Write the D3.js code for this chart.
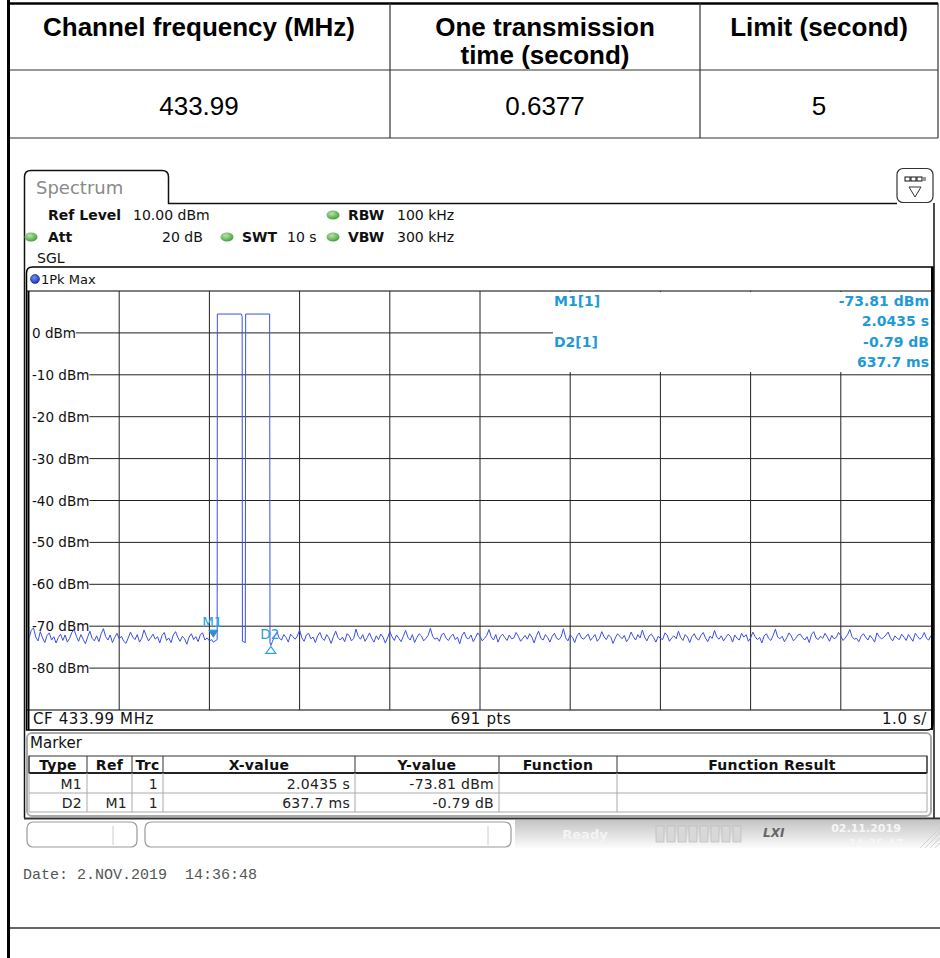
<!DOCTYPE html>
<html>
<head>
<meta charset="utf-8">
<script src="https://cdn.jsdelivr.net/npm/d3@7"></script>
<style>
  body { margin: 0; background: #fff; }
  svg { display: block; }
</style>
</head>
<body>
<div id="chart"></div>
<script>
// ---- data ----
const tableHeaders = [["Channel frequency (MHz)"], ["One transmission", "time (second)"], ["Limit (second)"]];
const tableValues = ["433.99", "0.6377", "5"];

const levelTicks = [0, -10, -20, -30, -40, -50, -60, -70, -80];
const timeTicks = [0, 1, 2, 3, 4, 5, 6, 7, 8, 9, 10];

// noise floor before the bursts, 0.000 .. 2.025 s every 0.025 s (dBm)
const noiseBefore = [
  -72.9, -71.0, -70.4, -72.6, -73.5, -71.3, -72.8, -73.9, -72.2, -71.6,
  -73.3, -72.5, -74.0, -72.7, -71.9, -73.4, -72.1, -73.8, -72.9, -71.5,
  -70.8, -72.4, -73.6, -72.0, -73.1, -74.2, -72.6, -71.2, -72.9, -73.5,
  -72.3, -73.7, -71.8, -70.6, -72.5, -73.3, -72.1, -73.9, -72.7, -71.7,
  -73.0, -72.4, -73.6, -74.1, -72.8, -71.4, -72.6, -73.2, -72.0, -73.8,
  -72.9, -70.9, -72.3, -73.5, -72.7, -71.9, -73.1, -72.5, -74.0, -72.2,
  -71.5, -73.4, -72.8, -73.9, -72.1, -71.3, -72.7, -73.6, -72.4, -73.0,
  -74.3, -72.6, -71.8, -73.2, -72.5, -73.7, -72.0, -71.6, -73.3, -72.8,
  -73.5, -73.2
];
// the two bursts, [time s, level dBm]
const burstTrace = [
  [2.0435, -73.81], [2.086, -73.2], [2.088, 4.5], [2.355, 4.5], [2.363, 3.9],
  [2.366, -73.6], [2.398, -73.9], [2.402, 4.5], [2.668, 4.5], [2.672, -74.0],
  [2.681, -74.6]
];
// noise floor after the bursts, 2.700 .. 10.000 s every 0.025 s (dBm)
const noiseAfter = [
  -73.6, -72.2, -71.4, -72.9, -73.3, -72.0, -72.7, -73.8, -71.9, -72.5,
  -73.1, -72.4, -70.9, -72.8, -73.6, -72.1, -71.7, -73.0, -72.6, -73.9,
  -72.3, -71.5, -72.9, -73.4, -72.0, -72.8, -74.1, -72.5, -71.2, -72.7,
  -73.3, -72.6, -73.7, -71.8, -72.2, -73.5, -72.9, -70.7, -72.4, -73.1,
  -72.0, -73.6, -72.7, -71.6, -72.9, -73.8, -72.3, -73.2, -71.9, -72.6,
  -74.0, -72.8, -71.3, -72.5, -73.4, -72.1, -72.9, -73.7, -72.4, -71.0,
  -72.6, -73.3, -72.0, -73.9, -72.7, -71.8, -72.3, -73.5, -72.9, -72.2,
  -70.5, -72.4, -73.1, -72.8, -73.6, -72.0, -71.7, -72.9, -73.4, -72.5,
  -71.9, -73.2, -72.6, -74.2, -72.3, -71.4, -72.8, -73.0, -72.1, -73.7,
  -72.7, -71.6, -72.4, -73.5, -72.9, -72.2, -70.8, -72.6, -73.3, -72.0,
  -73.8, -72.5, -71.9, -72.7, -73.4, -72.1, -73.0, -72.8, -71.5, -72.4,
  -73.6, -72.9, -72.2, -73.1, -71.8, -72.6, -74.0, -72.3, -71.2, -72.9,
  -73.3, -72.0, -72.7, -73.8, -72.4, -71.7, -72.9, -73.2, -72.5, -70.6,
  -72.8, -73.5, -72.1, -72.6, -73.9, -72.3, -71.6, -72.8, -73.1, -72.4,
  -71.9, -73.4, -72.7, -72.0, -73.6, -72.9, -71.3, -72.5, -73.2, -72.1,
  -72.6, -74.1, -72.8, -71.8, -72.4, -73.0, -72.2, -73.7, -72.9, -71.4,
  -72.5, -73.3, -72.0, -72.8, -70.9, -72.6, -73.5, -72.3, -71.9, -72.7,
  -73.8, -72.4, -72.9, -73.2, -71.6, -72.1, -73.6, -72.8, -72.3, -73.0,
  -71.2, -72.7, -73.4, -72.0, -72.6, -73.9, -72.5, -71.8, -72.9, -73.3,
  -72.2, -71.5, -72.8, -73.7, -72.4, -72.9, -71.0, -72.6, -73.1, -72.3,
  -73.5, -72.7, -71.9, -72.4, -73.8, -72.1, -72.9, -73.3, -71.7, -72.6,
  -72.0, -73.6, -72.8, -71.4, -72.5, -73.2, -72.7, -74.0, -72.3, -71.8,
  -72.9, -73.4, -72.2, -70.7, -72.6, -73.0, -72.4, -73.7, -72.8, -71.6,
  -72.3, -73.5, -72.9, -72.1, -71.9, -72.7, -73.3, -72.5, -73.9, -72.0,
  -71.3, -72.8, -73.2, -72.4, -72.9, -71.7, -72.6, -73.6, -72.2, -73.0,
  -72.7, -71.5, -72.3, -73.4, -72.8, -72.0, -70.8, -72.5, -73.1, -72.9,
  -73.7, -72.4, -71.8, -72.6, -73.3, -72.2, -72.9, -73.8, -71.6, -72.5,
  -73.0, -72.7, -72.1, -71.4, -72.8, -73.5, -72.3, -72.9, -73.2, -71.9,
  -72.6, -73.4, -72.0, -72.8, -73.6, -71.7, -72.4, -73.1, -72.7, -71.5,
  -72.9, -73.3, -72.2
];
const noiseStep = 0.025;
const noiseAfterStart = 2.70;

const markers = [
  {name: "M1", t: 2.0435, level: -73.81},
  {name: "D2", t: 2.681, level: -74.6}
];
const readout = [["M1[1]", "-73.81 dBm"], ["", "2.0435 s"], ["D2[1]", "-0.79 dB"], ["", "637.7 ms"]];

const markerCols = ["Type", "Ref", "Trc", "X-value", "Y-value", "Function", "Function Result"];
const markerRows = [
  ["M1", "", "1", "2.0435 s", "-73.81 dBm", "", ""],
  ["D2", "M1", "1", "637.7 ms", "-0.79 dB", "", ""]
];

// ---- drawing ----
const W = 940, H = 958;
const svg = d3.select("#chart").append("svg")
  .attr("width", W).attr("height", H);

const defs = svg.append("defs");
const g1 = defs.append("radialGradient").attr("id", "led").attr("cx", "40%").attr("cy", "35%").attr("r", "70%");
g1.append("stop").attr("offset", "0%").attr("stop-color", "#b6e3a4");
g1.append("stop").attr("offset", "100%").attr("stop-color", "#3f9a3a");
const g2 = defs.append("linearGradient").attr("id", "status").attr("x1", 0).attr("y1", 0).attr("x2", 0).attr("y2", 1);
g2.append("stop").attr("offset", "0%").attr("stop-color", "#c4c4c4");
g2.append("stop").attr("offset", "100%").attr("stop-color", "#fcfcfc");
const g3 = defs.append("radialGradient").attr("id", "bluedot").attr("cx", "40%").attr("cy", "35%").attr("r", "70%");
g3.append("stop").attr("offset", "0%").attr("stop-color", "#6f8cff");
g3.append("stop").attr("offset", "100%").attr("stop-color", "#1030d0");

// outer document table
const colEdges = [8, 390, 700, 938];
const tbl = svg.append("g").attr("font-family", "Liberation Sans, Arial, sans-serif").attr("fill", "#000");
tbl.append("line").attr("x1", 8).attr("x2", 938).attr("y1", 3.5).attr("y2", 3.5).attr("stroke", "#000").attr("stroke-width", 2.5);
[70, 138].forEach(yy => tbl.append("line").attr("x1", 8).attr("x2", 938).attr("y1", yy).attr("y2", yy).attr("stroke", "#333").attr("stroke-width", 1.2));
colEdges.slice(1).forEach(xx => tbl.append("line").attr("x1", xx).attr("x2", xx).attr("y1", 3).attr("y2", 138).attr("stroke", "#333").attr("stroke-width", 1.2));
tableHeaders.forEach((lines, i) => {
  const cx = (colEdges[i] + colEdges[i + 1]) / 2;
  lines.forEach((s, j) => {
    tbl.append("text").attr("x", cx).attr("y", lines.length === 1 ? 27 : 27 + j * 28)
      .attr("text-anchor", "middle").attr("dominant-baseline", "central")
      .attr("font-size", 26).attr("font-weight", "bold").text(s);
  });
  tbl.append("text").attr("x", cx).attr("y", 106).attr("text-anchor", "middle")
    .attr("dominant-baseline", "central").attr("font-size", 26).text(tableValues[i]);
});
svg.append("rect").attr("x", 7).attr("y", 0).attr("width", 3).attr("height", H).attr("fill", "#000");
svg.append("line").attr("x1", 10).attr("x2", 940).attr("y1", 928).attr("y2", 928).attr("stroke", "#333").attr("stroke-width", 1.5);

// analyzer screen
const scr = svg.append("g").attr("font-family", "DejaVu Sans, Verdana, sans-serif");

// tab + frame
scr.append("path")
  .attr("d", "M24.5,818 L24.5,177 Q24.5,170.5 31,170.5 L162,170.5 Q168.5,170.5 168.5,177 L168.5,203.5 L897,203.5")
  .attr("fill", "none").attr("stroke", "#111").attr("stroke-width", 1.5);
scr.append("line").attr("x1", 934).attr("x2", 934).attr("y1", 203).attr("y2", 818).attr("stroke", "#111").attr("stroke-width", 1.5);
scr.append("text").attr("x", 36).attr("y", 187).attr("dominant-baseline", "central")
  .attr("font-size", 18).attr("fill", "#8a8a8a").text("Spectrum");

// icon button
scr.append("rect").attr("x", 897).attr("y", 168.5).attr("width", 36).attr("height", 34).attr("rx", 6)
  .attr("fill", "#fff").attr("stroke", "#333").attr("stroke-width", 1.2);
[0, 1, 2].forEach(k => scr.append("rect").attr("x", 905 + k * 6).attr("y", 177).attr("width", 5).attr("height", 4)
  .attr("fill", "#fff").attr("stroke", "#111").attr("stroke-width", 1));
scr.append("rect").attr("x", 923).attr("y", 177).attr("width", 3).attr("height", 4).attr("fill", "#999");
scr.append("path").attr("d", "M909,187 L921,187 L915,197 Z").attr("fill", "none").attr("stroke", "#333").attr("stroke-width", 1);

// settings lines
const setRows = [
  {y: 215, items: [{x: 48, t: "Ref Level", b: true}, {x: 133, t: "10.00 dBm"}, {dot: 333}, {x: 348, t: "RBW", b: true}, {x: 397, t: "100 kHz"}]},
  {y: 237, items: [{dot: 31}, {x: 48, t: "Att", b: true}, {x: 162, t: "20 dB"}, {dot: 227}, {x: 242, t: "SWT", b: true}, {x: 287, t: "10 s"}, {dot: 333}, {x: 348, t: "VBW", b: true}, {x: 397, t: "300 kHz"}]},
  {y: 258, items: [{x: 37, t: "SGL"}]}
];
setRows.forEach(r => r.items.forEach(it => {
  if (it.dot !== undefined) {
    scr.append("ellipse").attr("cx", it.dot).attr("cy", r.y).attr("rx", 6.5).attr("ry", 4.5).attr("fill", "url(#led)");
  } else {
    scr.append("text").attr("x", it.x).attr("y", r.y).attr("dominant-baseline", "central")
      .attr("font-size", 14).attr("font-weight", it.b ? "bold" : "normal").attr("fill", "#111").text(it.t);
  }
}));

// trace window
const x = d3.scaleLinear().domain([0, 10]).range([29, 931]);
const y = d3.scaleLinear().domain([10, -90]).range([291, 710]);

scr.append("path")
  .attr("d", "M26.5,730 L26.5,273 Q26.5,267 32.5,267 L933,267 L933,724 Q933,730 927,730 Z")
  .attr("fill", "#fff").attr("stroke", "#000").attr("stroke-width", 1.5);
scr.append("circle").attr("cx", 35).attr("cy", 279).attr("r", 4.5).attr("fill", "url(#bluedot)").attr("stroke", "#223").attr("stroke-width", 0.6);
scr.append("text").attr("x", 41).attr("y", 279).attr("dominant-baseline", "central")
  .attr("font-size", 13).attr("fill", "#111").text("1Pk Max");

const plot = scr.append("g");
plot.append("line").attr("x1", 27).attr("x2", 933).attr("y1", y(10)).attr("y2", y(10)).attr("stroke", "#000").attr("stroke-width", 1.2);
plot.append("line").attr("x1", 27).attr("x2", 933).attr("y1", y(-90)).attr("y2", y(-90)).attr("stroke", "#000").attr("stroke-width", 1.2);

// vertical grid
plot.selectAll(".vg").data(timeTicks.slice(1, -1)).enter().append("line")
  .attr("x1", d => x(d)).attr("x2", d => x(d)).attr("y1", y(10)).attr("y2", y(-90))
  .attr("stroke", "#222").attr("stroke-width", 1);

// horizontal grid with labels
const lbl = plot.selectAll(".hg").data(levelTicks).enter().append("g");
lbl.append("text").attr("x", 32).attr("y", d => y(d)).attr("dominant-baseline", "central")
  .attr("font-size", 13.5).attr("fill", "#111").text(d => d + " dBm");
lbl.each(function(d) {
  const len = d3.select(this).select("text").node().getComputedTextLength();
  d3.select(this).insert("line", "text").attr("x1", 32 + len).attr("x2", x(10)).attr("y1", y(d)).attr("y2", y(d))
    .attr("stroke", "#222").attr("stroke-width", 1);
});

// borders of the diagram
plot.append("line").attr("x1", 28.5).attr("x2", 28.5).attr("y1", y(10)).attr("y2", 730).attr("stroke", "#000").attr("stroke-width", 2);
plot.append("line").attr("x1", 932).attr("x2", 932).attr("y1", 267).attr("y2", 730).attr("stroke", "#000").attr("stroke-width", 2);

// trace
const trace = noiseBefore.map((v, i) => [i * noiseStep, v])
  .concat(burstTrace)
  .concat(noiseAfter.map((v, i) => [noiseAfterStart + i * noiseStep, v]));
defs.append("clipPath").attr("id", "plotclip").append("rect")
  .attr("x", x(0)).attr("y", y(10)).attr("width", x(10) - x(0)).attr("height", y(-90) - y(10));
plot.append("path").datum(trace)
  .attr("clip-path", "url(#plotclip)")
  .attr("d", d3.line().x(d => x(d[0])).y(d => y(d[1])))
  .attr("fill", "none").attr("stroke", "#3b50e2").attr("stroke-width", 1);

// marker symbols
const mk = markers[0], dk = markers[1];
plot.append("path")
  .attr("d", `M${x(mk.t) - 4.5},${y(mk.level) - 12} L${x(mk.t) + 4.5},${y(mk.level) - 12} L${x(mk.t)},${y(mk.level) - 5} Z`)
  .attr("fill", "#2a8fd6").attr("stroke", "#2a8fd6");
plot.append("text").attr("x", x(mk.t) - 1).attr("y", y(mk.level) - 20).attr("text-anchor", "middle")
  .attr("dominant-baseline", "central").attr("font-size", 13.5).attr("fill", "#2aa0dc").text(mk.name);
plot.append("path")
  .attr("d", `M${x(dk.t)},${y(dk.level) + 1} L${x(dk.t) - 5},${y(dk.level) + 8} L${x(dk.t) + 5},${y(dk.level) + 8} Z`)
  .attr("fill", "#fff").attr("stroke", "#2aa0dc").attr("stroke-width", 1.2);
plot.append("text").attr("x", x(dk.t) - 1).attr("y", y(dk.level) - 11).attr("text-anchor", "middle")
  .attr("dominant-baseline", "central").attr("font-size", 13.5).attr("fill", "#2aa0dc").text(dk.name);

// marker readout box
plot.append("rect").attr("x", 553).attr("y", y(10) + 1).attr("width", 378).attr("height", 80).attr("fill", "#fff");
readout.forEach((r, i) => {
  const yy = 301 + i * 20.3;
  if (r[0]) plot.append("text").attr("x", 554).attr("y", yy).attr("dominant-baseline", "central")
    .attr("font-size", 14).attr("font-weight", "bold").attr("fill", "#1f9ad6").text(r[0]);
  plot.append("text").attr("x", 929).attr("y", yy).attr("text-anchor", "end").attr("dominant-baseline", "central")
    .attr("font-size", 14).attr("font-weight", "bold").attr("fill", "#1f9ad6").text(r[1]);
});

// bottom info bar
const bar = scr.append("g").attr("font-size", 15).attr("letter-spacing", 0.6).attr("fill", "#111");
bar.append("text").attr("x", 33).attr("y", 719).attr("dominant-baseline", "central").text("CF 433.99 MHz");
bar.append("text").attr("x", 481).attr("y", 719).attr("text-anchor", "middle").attr("dominant-baseline", "central").text("691 pts");
bar.append("text").attr("x", 927).attr("y", 719).attr("text-anchor", "end").attr("dominant-baseline", "central").text("1.0 s/");

// marker table
const mt = scr.append("g");
mt.append("rect").attr("x", 27).attr("y", 733).attr("width", 904).attr("height", 83).attr("rx", 5)
  .attr("fill", "#fff").attr("stroke", "#aaa").attr("stroke-width", 2);
mt.append("text").attr("x", 30).attr("y", 743).attr("dominant-baseline", "central")
  .attr("font-size", 15).attr("fill", "#111").text("Marker");
const mCols = [29, 87, 132, 163, 355, 499, 617, 927];
const rowY = [756, 773, 793, 812];
mt.append("rect").attr("x", mCols[0]).attr("y", rowY[0]).attr("width", mCols[7] - mCols[0]).attr("height", rowY[1] - rowY[0])
  .attr("fill", "#fff").attr("stroke", "#333").attr("stroke-width", 1);
mt.append("line").attr("x1", mCols[0]).attr("x2", mCols[7]).attr("y1", rowY[1]).attr("y2", rowY[1]).attr("stroke", "#222").attr("stroke-width", 2);
[rowY[2], rowY[3]].forEach(yy => mt.append("line").attr("x1", mCols[0]).attr("x2", mCols[7]).attr("y1", yy).attr("y2", yy).attr("stroke", "#aaa"));
mCols.forEach((cx, i) => {
  mt.append("line").attr("x1", cx).attr("x2", cx).attr("y1", rowY[0]).attr("y2", rowY[1]).attr("stroke", "#333");
  mt.append("line").attr("x1", cx).attr("x2", cx).attr("y1", rowY[1]).attr("y2", rowY[3]).attr("stroke", "#aaa");
});
markerCols.forEach((c, i) => {
  mt.append("text").attr("x", (mCols[i] + mCols[i + 1]) / 2).attr("y", 764.5).attr("text-anchor", "middle")
    .attr("dominant-baseline", "central").attr("font-size", 14).attr("font-weight", "bold").attr("letter-spacing", 0.3)
    .attr("fill", "#111").text(c);
});
markerRows.forEach((row, r) => {
  row.forEach((v, i) => {
    if (!v) return;
    mt.append("text").attr("x", mCols[i + 1] - 5).attr("y", (rowY[r + 1] + rowY[r + 2]) / 2 + 0.5)
      .attr("text-anchor", "end").attr("dominant-baseline", "central")
      .attr("font-size", 14).attr("letter-spacing", 0.3).attr("fill", "#222").text(v);
  });
});

// status bar
scr.append("line").attr("x1", 24).attr("x2", 940).attr("y1", 818.5).attr("y2", 818.5).attr("stroke", "#333").attr("stroke-width", 2);
scr.append("rect").attr("x", 515).attr("y", 820).attr("width", 425).attr("height", 28).attr("fill", "url(#status)");
scr.append("rect").attr("x", 27).attr("y", 822).attr("width", 110).attr("height", 25).attr("rx", 6)
  .attr("fill", "#fff").attr("stroke", "#999").attr("stroke-width", 1.2);
scr.append("line").attr("x1", 113).attr("x2", 113).attr("y1", 826).attr("y2", 845).attr("stroke", "#ccc");
scr.append("rect").attr("x", 145).attr("y", 822).attr("width", 366).attr("height", 25).attr("rx", 6)
  .attr("fill", "#fff").attr("stroke", "#999").attr("stroke-width", 1.2);
scr.append("line").attr("x1", 488).attr("x2", 488).attr("y1", 826).attr("y2", 845).attr("stroke", "#ccc");
scr.append("text").attr("x", 585).attr("y", 834).attr("text-anchor", "middle").attr("dominant-baseline", "central")
  .attr("font-size", 13).attr("font-weight", "bold").attr("fill", "#f4f4f4").text("Ready");
d3.range(8).forEach(k => scr.append("rect").attr("x", 656 + k * 11).attr("y", 826).attr("width", 8).attr("height", 16)
  .attr("fill", "#d8d8d8").attr("stroke", "#b4b4b4").attr("stroke-width", 0.6));
scr.append("text").attr("x", 763).attr("y", 833).attr("dominant-baseline", "central")
  .attr("font-size", 12).attr("font-weight", "bold").attr("font-style", "italic").attr("fill", "#666").text("LXI");
scr.append("text").attr("x", 866).attr("y", 828).attr("text-anchor", "middle").attr("dominant-baseline", "central")
  .attr("font-size", 11).attr("font-weight", "bold").attr("fill", "#f6f6f6").text("02.11.2019");
scr.append("text").attr("x", 876).attr("y", 843).attr("text-anchor", "middle").attr("dominant-baseline", "central")
  .attr("font-size", 11).attr("font-weight", "bold").attr("fill", "#f6f6f6").text("14:36:47");
d3.range(4).forEach(k => scr.append("line").attr("x1", 920 + k * 5).attr("y1", 848).attr("x2", 940).attr("y2", 828 + k * 5)
  .attr("stroke", "#ccc").attr("stroke-width", 0.8));

// date footer
svg.append("text").attr("x", 23).attr("y", 875).attr("dominant-baseline", "central")
  .attr("font-family", "Liberation Mono, Courier New, monospace").attr("font-size", 15).attr("fill", "#555")
  .text("Date: 2.NOV.2019  14:36:48").attr("xml:space", "preserve").style("white-space", "pre");
</script>
</body>
</html>
